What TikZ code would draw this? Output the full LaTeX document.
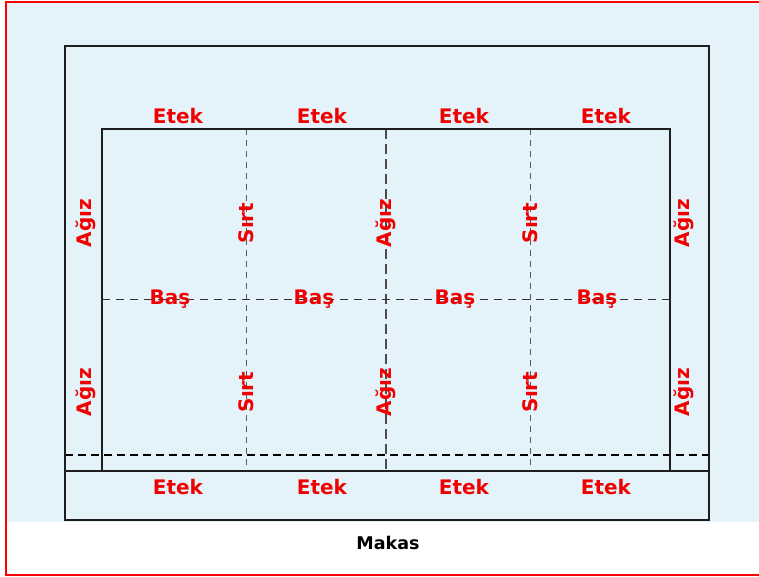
\documentclass[tikz,border=0pt]{standalone}
\usepackage{fontspec}
\newfontfamily\lblfont{DejaVu Sans}
\definecolor{bgblue}{RGB}{228,243,249}
\definecolor{lblred}{RGB}{240,0,0}
\definecolor{linegray}{RGB}{30,30,30}
\begin{document}
\begin{tikzpicture}[x=1pt,y=-1pt,
  lbl/.style={text=lblred,font=\lblfont\bfseries\fontsize{20}{20}\selectfont,inner sep=0pt},
  vlbl/.style={lbl,rotate=90},
  frame/.style={draw=linegray,line width=2pt},
  thindash/.style={draw=black!65,line width=1pt,dash pattern=on 6pt off 5pt},
  middash/.style={draw=black!70,line width=1.2pt,dash pattern=on 10pt off 5pt},
  hdash/.style={draw=black!80,line width=1pt,dash pattern=on 8pt off 6pt},
  botdash/.style={draw=black,line width=2pt,dash pattern=on 8pt off 5pt}]
\useasboundingbox (0,0) rectangle (759,577);
\fill[white] (0,0) rectangle (759,577);
\fill[bgblue] (7,3) rectangle (759,522);
% red border (left, top, bottom only)
\draw[red,line width=2pt] (750,2) -- (6,2) -- (6,575) -- (750,575);
\fill[red] (750,1) rectangle (759,3);
\fill[red] (750,574) rectangle (759,576);
% dashed lines
\draw[thindash] (246,129) -- (246,471);
\draw[thindash] (530,129) -- (530,471);
\draw[middash] (386,129) -- (386,471);
\draw[hdash] (102,299) -- (670,299);
\draw[botdash] (65,455) -- (709,455);
% frames
\draw[frame] (65,46) rectangle (709,520);
\draw[frame] (102,471) -- (102,129) -- (670,129) -- (670,471);
\draw[frame] (65,471) -- (709,471);
% labels
\foreach \x/\n in {178/a,322/b,464/c,606/d}{
  \node[lbl] (et\n) at (\x,116) {Etek};
  \node[lbl] (eb\n) at (\x,487) {Etek};
}
\foreach \x/\n in {170/a,314/b,455/c,597/d}{
  \node[lbl] (bas\n) at (\x,299) {Baş};
}
\foreach \x/\n in {86/a,386/b,684/c}{
  \node[vlbl] (agt\n) at (\x,223) {Ağız};
  \node[vlbl] (agb\n) at (\x,392) {Ağız};
}
\foreach \x/\n in {246/a,530/b}{
  \node[vlbl] (srt\n) at (\x,223) {Sırt};
  \node[vlbl] (srb\n) at (\x,392) {Sırt};
}
\node[text=black,font=\lblfont\bfseries\fontsize{17.5}{17.5}\selectfont,inner sep=0pt] (makas) at (388,543) {Makas};
\end{tikzpicture}
\end{document}
